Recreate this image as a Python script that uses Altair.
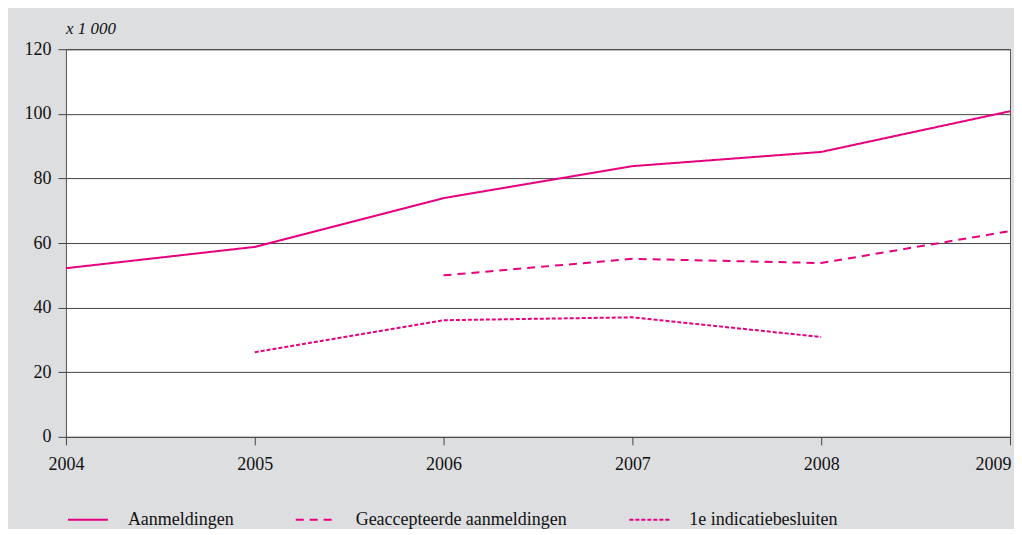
import altair as alt
import pandas as pd

years = [2004, 2005, 2006, 2007, 2008, 2009]
series = ["Aanmeldingen", "Geaccepteerde aanmeldingen", "1e indicatiebesluiten"]
aanmeldingen = [52.2, 58.8, 73.9, 83.8, 88.2, 100.8]
geaccepteerd = [None, None, 50.0, 55.1, 53.8, 63.7]
indicatie = [None, 26.2, 36.1, 37.0, 30.9, None]
y_ticks = [0, 20, 40, 60, 80, 100, 120]

rows = []
for name, vals in zip(series, [aanmeldingen, geaccepteerd, indicatie]):
    for yr, v in zip(years, vals):
        if v is not None:
            rows.append({"jaar": yr, "waarde": v, "reeks": name})
df = pd.DataFrame(rows)

MAGENTA = "#e6007e"
FONT = "Liberation Serif"

legend = alt.Legend(orient="none", legendX=1, legendY=450,
                    direction="horizontal", columns=3, title=None,
                    symbolType="stroke", symbolSize=1600,
                    symbolStrokeWidth=2, labelFont=FONT,
                    labelFontSize=18, labelColor="#111", labelLimit=500,
                    labelOffset=19, columnPadding=58)

chart = alt.Chart(df).mark_line(strokeWidth=2, interpolate="linear").encode(
    x=alt.X("jaar:Q",
            scale=alt.Scale(domain=[2004, 2009], nice=False, zero=False),
            axis=alt.Axis(values=years, format="d", title=None, grid=False,
                          domain=False, tickSize=8, tickColor="#444",
                          labelPadding=11, labelFont=FONT, labelFontSize=18,
                          labelColor="#111", labelFlush=False,
                          labelAlign={"condition": {"test": "datum.value == 2009", "value": "right"}, "value": "center"},
                          labelOffset={"condition": {"test": "datum.value == 2009", "value": 1}, "value": 0})),
    y=alt.Y("waarde:Q",
            scale=alt.Scale(domain=[0, 120], nice=False),
            axis=alt.Axis(values=y_ticks, title=None, grid=True, gridColor="#444",
                          gridWidth=1, domain=False, tickSize=8, tickColor="#444",
                          labelPadding=7, labelFont=FONT, labelFontSize=18,
                          labelColor="#111", minExtent=58, maxExtent=58)),
    color=alt.Color("reeks:N",
                    scale=alt.Scale(domain=series, range=[MAGENTA] * 3),
                    legend=legend),
    strokeDash=alt.StrokeDash("reeks:N",
                              scale=alt.Scale(domain=series, range=[[1, 0], [8, 6], [4, 2]]),
                              legend=legend),
).properties(
    width=945,
    height=388,
    background="#dddee0",
    padding={"left": 0, "top": 12, "right": 0, "bottom": 0},
    title=alt.TitleParams("x 1 000", anchor="start", frame="group", font=FONT,
                          fontSize=17, fontStyle="italic", fontWeight="normal",
                          color="#111", offset=2),
).configure_view(
    stroke="#555", strokeWidth=1, fill="white"
)

chart.save("out.html", embed_options={"renderer": "svg", "actions": False})
